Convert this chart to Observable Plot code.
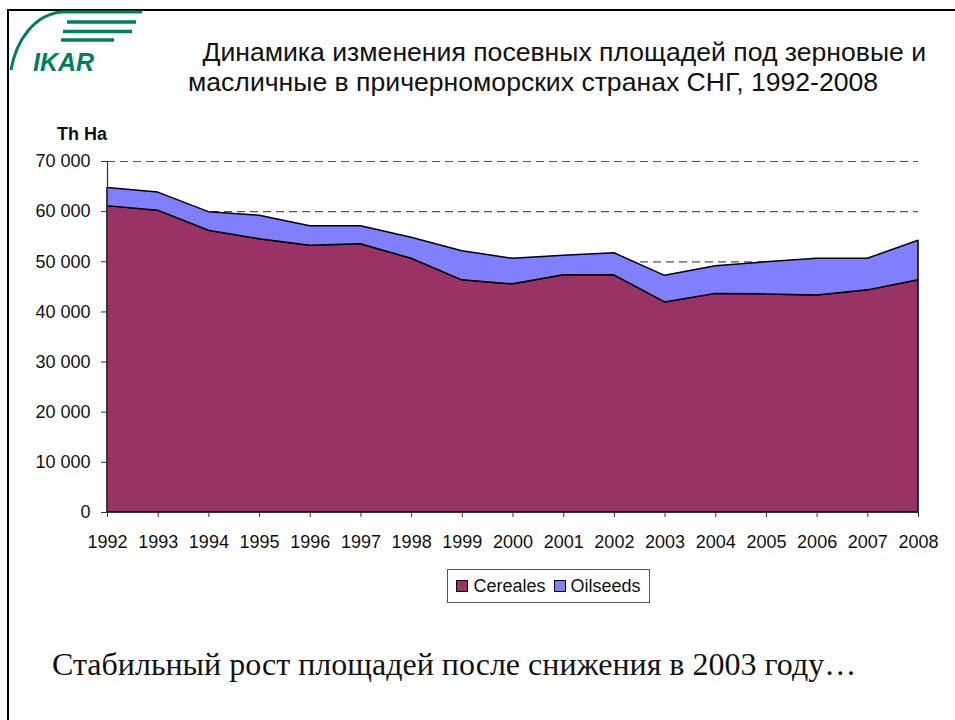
<!DOCTYPE html>
<html>
<head>
<meta charset="utf-8">
<script src="https://cdn.jsdelivr.net/npm/d3@7"></script>
<script src="https://cdn.jsdelivr.net/npm/@observablehq/plot@0.6"></script>
<style>
  html, body { margin: 0; padding: 0; background: #fff; }
  #page { position: relative; width: 955px; height: 720px; overflow: hidden; font-family: "Liberation Sans", Arial, sans-serif; color: #111; }
  .abs { position: absolute; white-space: pre; line-height: 1.15; }
  #chart { position: absolute; left: 0; top: 150px; }
  #chart svg { overflow: visible; }
</style>
</head>
<body>
<div id="page">
  <div class="abs" style="left:8px;top:9px;width:947px;height:2px;background:#000;"></div>
  <div class="abs" style="left:7px;top:9px;width:2px;height:711px;background:#000;"></div>
  <svg class="abs" style="left:0;top:0" width="160" height="80">
    <path d="M11,70 C16,40 35,14 62,12 L142,12" fill="none" stroke="#00805a" stroke-width="3"/>
    <line x1="67" y1="22" x2="136" y2="22" stroke="#00805a" stroke-width="3.5"/>
    <line x1="63" y1="31.5" x2="132" y2="31.5" stroke="#00805a" stroke-width="3.5"/>
    <line x1="61" y1="40" x2="114" y2="40" stroke="#00805a" stroke-width="3.5"/>
    <text x="33" y="71" font-family="Liberation Sans, Arial, sans-serif" font-weight="bold" font-style="italic" font-size="25" fill="#00805a">IKAR</text>
  </svg>
  <div class="abs" id="t1" style="left:195px;top:37px;font-size:26.6px;"> Динамика изменения посевных площадей под зерновые и</div>
  <div class="abs" id="t2" style="left:188px;top:67px;font-size:26.6px;">масличные в причерноморских странах СНГ, 1992-2008</div>
  <div class="abs" style="left:57px;top:124px;font-size:18px;font-weight:bold;">Th Ha</div>
  <div id="chart"></div>
  <div class="abs" id="legend" style="left:447px;top:569px;width:203px;height:34px;border:1px solid #555;box-sizing:border-box;display:flex;align-items:center;justify-content:center;gap:4px;font-size:18px;"></div>
  <div class="abs" style="left:52px;top:646px;font-family:'Liberation Serif','Times New Roman',serif;font-size:32px;">Стабильный рост площадей после снижения в 2003 году…</div>
</div>
<script>
const years = [1992,1993,1994,1995,1996,1997,1998,1999,2000,2001,2002,2003,2004,2005,2006,2007,2008];
const cereales = [61100,60200,56200,54500,53200,53500,50600,46300,45500,47300,47300,41900,43600,43500,43300,44300,46300];
const oilseeds = [3600,3600,3700,4700,3900,3600,4200,5800,5100,3900,4400,5300,5500,6400,7300,6300,7900];
const seriesNames = ["Cereales","Oilseeds"];
const seriesColors = ["#993366","#8080FF"];
const yTicks = [0,10000,20000,30000,40000,50000,60000,70000];

const rows = [];
years.forEach((yr,i) => rows.push({year: yr, series: seriesNames[0], value: cereales[i]}));
years.forEach((yr,i) => rows.push({year: yr, series: seriesNames[1], value: oilseeds[i]}));

const fmt = d => d3.format(",")(d).replace(/,/g, " ");

const chart = Plot.plot({
  width: 955,
  height: 410,
  marginTop: 11,
  marginBottom: 48,
  marginLeft: 107,
  marginRight: 37,
  style: {fontFamily: "Liberation Sans, Arial, sans-serif", fontSize: "18px", color: "#111", background: "transparent"},
  x: {domain: [1992, 2008], label: null},
  y: {domain: [0, 70000], label: null},
  color: {domain: seriesNames, range: seriesColors},
  marks: [
    Plot.gridY(yTicks, {stroke: "#555", strokeOpacity: 1, strokeWidth: 1.2, strokeDasharray: "8,5"}),
    Plot.areaY(rows, {x: "year", y: "value", z: "series", fill: "series", stroke: "#000", strokeWidth: 1.5, order: seriesNames}),
    Plot.ruleX([1992], {stroke: "#333", strokeWidth: 1.2}),
    Plot.ruleY([0], {stroke: "#333", strokeWidth: 1.2}),
    Plot.axisY({ticks: yTicks, tickFormat: fmt, tickSize: 6, tickPadding: 11, stroke: "#333", fontSize: 18, label: null}),
    Plot.axisX({ticks: years, tickFormat: d => String(d), tickSize: 5, tickPadding: 18, stroke: "#333", fontSize: 18, label: null})
  ]
});
document.getElementById("chart").appendChild(chart);

const legend = document.getElementById("legend");
seriesNames.forEach((name, i) => {
  const item = document.createElement("span");
  item.style.display = "inline-flex";
  item.style.alignItems = "center";
  item.style.marginRight = i === 0 ? "4px" : "0";
  const sw = document.createElement("span");
  sw.style.cssText = `display:inline-block;width:10px;height:10px;border:1px solid #000;background:${seriesColors[i]};margin-right:5px;`;
  item.appendChild(sw);
  item.appendChild(document.createTextNode(name));
  legend.appendChild(item);
});
</script>
</body>
</html>
